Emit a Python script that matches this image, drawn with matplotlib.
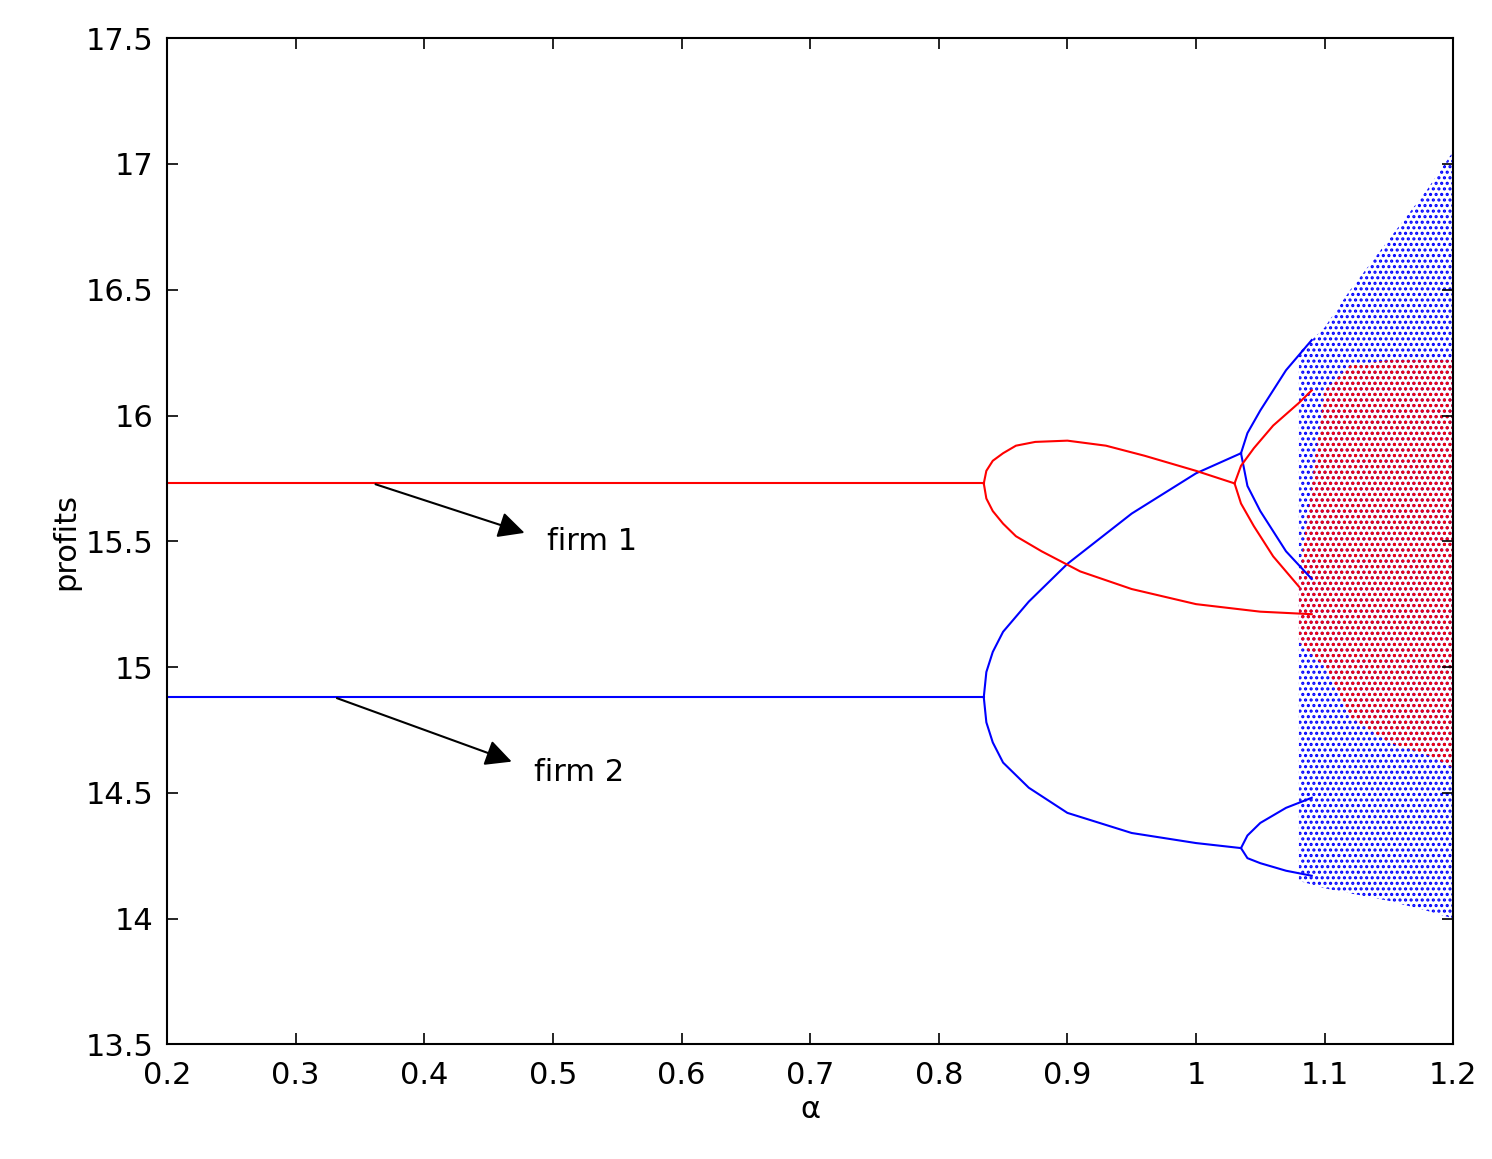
import matplotlib
matplotlib.use("Agg")
import matplotlib.pyplot as plt
import numpy as np

plt.rcParams['hatch.linewidth'] = 1.5

# firm 1 (red) branches
f1_flat_x = [0.2, 0.835]
f1_flat_y = [15.73, 15.73]
f1_up_x = [0.835, 0.837, 0.842, 0.85, 0.86, 0.875, 0.9, 0.93, 0.96, 1.0, 1.03]
f1_up_y = [15.73, 15.78, 15.82, 15.85, 15.88, 15.895, 15.90, 15.88, 15.84, 15.78, 15.73]
f1_low_x = [0.835, 0.837, 0.842, 0.85, 0.86, 0.88, 0.91, 0.95, 1.0, 1.05, 1.09]
f1_low_y = [15.73, 15.67, 15.62, 15.57, 15.52, 15.46, 15.38, 15.31, 15.25, 15.22, 15.21]
f1_b1_x = [1.03, 1.035, 1.045, 1.06, 1.08, 1.09]
f1_b1_y = [15.73, 15.8, 15.87, 15.96, 16.05, 16.1]
f1_b2_x = [1.03, 1.035, 1.045, 1.06, 1.08]
f1_b2_y = [15.73, 15.65, 15.56, 15.44, 15.32]
# red chaotic band
f1_chaos_x = [1.08, 1.1, 1.12, 1.15, 1.18, 1.2]
f1_chaos_lo = [15.1, 15.0, 14.8, 14.7, 14.65, 14.6]
f1_chaos_hi = [15.35, 16.1, 16.2, 16.22, 16.22, 16.22]

# firm 2 (blue) branches
f2_flat_x = [0.2, 0.835]
f2_flat_y = [14.88, 14.88]
f2_up_x = [0.835, 0.837, 0.842, 0.85, 0.87, 0.9, 0.95, 1.0, 1.035]
f2_up_y = [14.88, 14.98, 15.06, 15.14, 15.26, 15.41, 15.61, 15.77, 15.85]
f2_low_x = [0.835, 0.837, 0.842, 0.85, 0.87, 0.9, 0.95, 1.0, 1.035]
f2_low_y = [14.88, 14.78, 14.7, 14.62, 14.52, 14.42, 14.34, 14.3, 14.28]
f2_b1_x = [1.035, 1.04, 1.05, 1.07, 1.09]
f2_b1_y = [15.85, 15.93, 16.02, 16.18, 16.3]
f2_b2_x = [1.035, 1.04, 1.05, 1.07, 1.09]
f2_b2_y = [15.85, 15.72, 15.62, 15.46, 15.35]
f2_b3_x = [1.035, 1.04, 1.05, 1.07, 1.09]
f2_b3_y = [14.28, 14.33, 14.38, 14.44, 14.48]
f2_b4_x = [1.035, 1.04, 1.05, 1.07, 1.09]
f2_b4_y = [14.28, 14.24, 14.22, 14.19, 14.17]
# blue chaotic band
f2_chaos_x = [1.08, 1.1, 1.12, 1.15, 1.18, 1.2]
f2_chaos_lo = [14.15, 14.12, 14.1, 14.07, 14.03, 14.0]
f2_chaos_hi = [16.25, 16.35, 16.5, 16.7, 16.9, 17.05]

fig = plt.figure(figsize=(14.92, 11.59), dpi=100)
ax = fig.add_axes([0.112, 0.099, 0.862, 0.868])

ax.fill_between(f2_chaos_x, f2_chaos_lo, f2_chaos_hi, facecolor='none',
                edgecolor='blue', hatch='...', linewidth=0)
ax.fill_between(f1_chaos_x, f1_chaos_lo, f1_chaos_hi, facecolor='none',
                edgecolor='red', hatch='...', linewidth=0)

for x, y in [(f2_flat_x, f2_flat_y), (f2_up_x, f2_up_y), (f2_low_x, f2_low_y),
             (f2_b1_x, f2_b1_y), (f2_b2_x, f2_b2_y), (f2_b3_x, f2_b3_y),
             (f2_b4_x, f2_b4_y)]:
    ax.plot(x, y, color='blue', lw=1.5)
for x, y in [(f1_flat_x, f1_flat_y), (f1_up_x, f1_up_y), (f1_low_x, f1_low_y),
             (f1_b1_x, f1_b1_y), (f1_b2_x, f1_b2_y)]:
    ax.plot(x, y, color='red', lw=1.5)

ax.annotate('', xy=(0.48, 15.53), xytext=(0.36, 15.73),
            arrowprops=dict(arrowstyle='-|>', color='black', lw=1.5, mutation_scale=40))
ax.text(0.495, 15.5, 'firm 1', fontsize=22, va='center')
ax.annotate('', xy=(0.47, 14.62), xytext=(0.33, 14.88),
            arrowprops=dict(arrowstyle='-|>', color='black', lw=1.5, mutation_scale=40))
ax.text(0.485, 14.58, 'firm 2', fontsize=22, va='center')

ax.set_xlim(0.2, 1.2)
ax.set_ylim(13.5, 17.5)
ax.set_xticks(np.arange(0.2, 1.21, 0.1))
ax.set_xticklabels(['0.2', '0.3', '0.4', '0.5', '0.6', '0.7', '0.8', '0.9', '1', '1.1', '1.2'])
ax.set_yticks(np.arange(13.5, 17.51, 0.5))
ax.set_yticklabels(['13.5', '14', '14.5', '15', '15.5', '16', '16.5', '17', '17.5'])
ax.tick_params(direction='in', top=True, right=True, labelsize=22, length=8, width=1.2)
ax.tick_params(axis='x', pad=12)
ax.tick_params(axis='y', pad=10)
for s in ax.spines.values():
    s.set_linewidth(1.5)
ax.set_xlabel('α', fontsize=22)
ax.set_ylabel('profits', fontsize=22)

fig.savefig('out.png')
